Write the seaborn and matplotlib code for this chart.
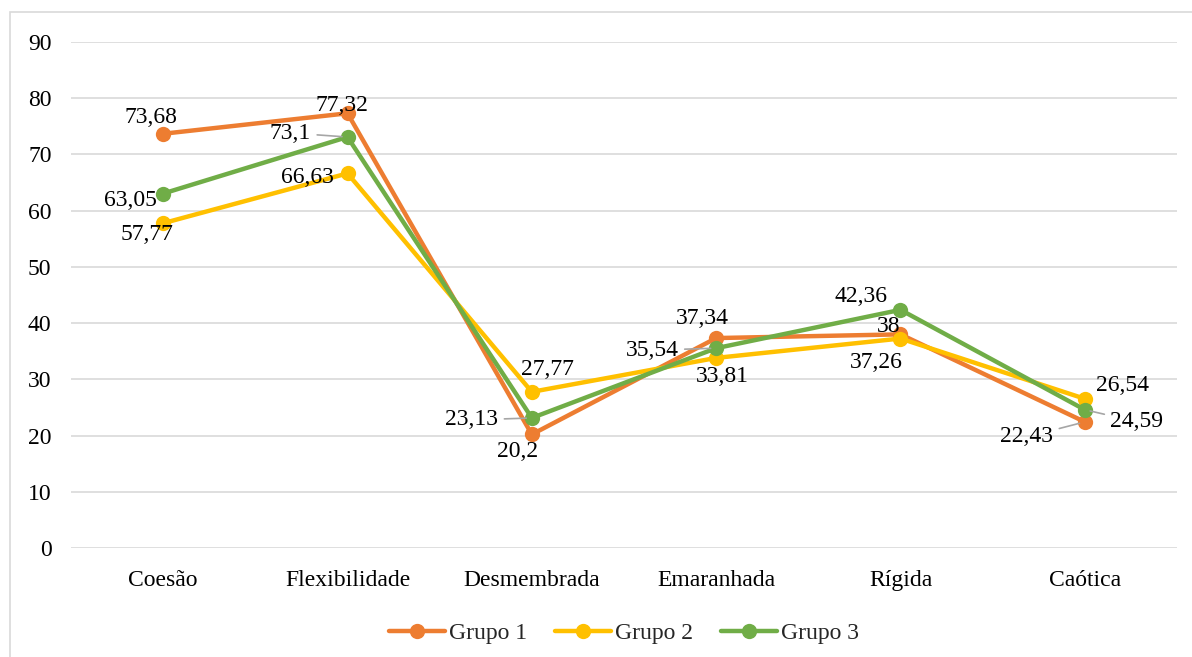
import matplotlib
matplotlib.use("Agg")
import matplotlib.pyplot as plt
import seaborn as sns
import pandas as pd
from matplotlib.patches import Rectangle

categorias = ["Coesão", "Flexibilidade", "Desmembrada", "Emaranhada", "Rígida", "Caótica"]
grupo1 = [73.68, 77.32, 20.2, 37.34, 38, 22.43]
grupo2 = [57.77, 66.63, 27.77, 33.81, 37.26, 26.54]
grupo3 = [63.05, 73.1, 23.13, 35.54, 42.36, 24.59]
grupos = ["Grupo 1", "Grupo 2", "Grupo 3"]
cores = ["#ED7D31", "#FFC000", "#70AD47"]

df = pd.DataFrame({
    "cat": categorias * 3,
    "x": list(range(len(categorias))) * 3,
    "valor": grupo1 + grupo2 + grupo3,
    "grupo": [g for g in grupos for _ in categorias],
})

sns.set_style("white")
plt.rcParams["font.family"] = ["Liberation Serif", "DejaVu Serif"]
FS = 17

fig = plt.figure(figsize=(11.92, 6.57), dpi=100)
ax = fig.add_axes([71 / 1192, 1 - 548 / 657, 1106 / 1192, 506 / 657])

sns.lineplot(data=df, x="x", y="valor", hue="grupo", palette=cores, marker="o",
             markersize=11, markeredgewidth=0, linewidth=3.2, ax=ax, sort=False)

ax.set_xlim(-0.5, 5.5)
ax.set_ylim(0, 90)
ax.set_yticks(range(0, 91, 10))
ax.set_xticks(range(len(categorias)))
ax.set_xticklabels(categorias)
ax.tick_params(axis="both", length=0, labelsize=FS, colors="black")
ax.tick_params(axis="y", pad=14)
ax.tick_params(axis="x", pad=16)
ax.yaxis.grid(True, color="#D9D9D9", linewidth=1.2)
ax.set_axisbelow(True)
for s in ax.spines.values():
    s.set_visible(False)
ax.set_xlabel("")
ax.set_ylabel("")

# offsets dos rótulos (pixels) e se usam linha guia
offsets = {
    "Grupo 1": [(-12, 16, False), (-6, 8, False), (-14, -17, False), (-14, 20, False), (-12, 8, False), (-58, -15, True)],
    "Grupo 2": [(-16, -11, False), (-40, -4, False), (16, 22, False), (6, -19, False), (-24, -24, False), (38, 13, False)],
    "Grupo 3": [(-33, -7, False), (-57, 4, True), (-60, -2, True), (-64, -2, True), (-39, 13, False), (52, -12, True)],
}
for g, vals in zip(grupos, [grupo1, grupo2, grupo3]):
    for i, v in enumerate(vals):
        dx, dy, guia = offsets[g][i]
        txt = f"{v:g}".replace(".", ",")
        ap = None
        if guia:
            ap = dict(arrowstyle="-", color="#A6A6A6", lw=1.2, shrinkA=2, shrinkB=4)
        ax.annotate(txt, (i, v), xytext=(dx, dy), textcoords="offset pixels",
                    ha="center", va="center", fontsize=FS, color="black",
                    arrowprops=ap)

leg = ax.legend(loc="upper center", bbox_to_anchor=(0.5, -0.105), ncol=3, frameon=False,
                fontsize=FS, handlelength=2.4, columnspacing=1.15, handletextpad=0.17)
for h in leg.get_lines():
    h.set_linewidth(3.2)
    h.set_markersize(11)

fig.patches.append(Rectangle((10 / 1192, -0.1), 1.2, 1 - 12 / 657 + 0.1, transform=fig.transFigure,
                             fill=False, edgecolor="#D9D9D9", linewidth=1.2))

fig.savefig("out.png", dpi=100)
